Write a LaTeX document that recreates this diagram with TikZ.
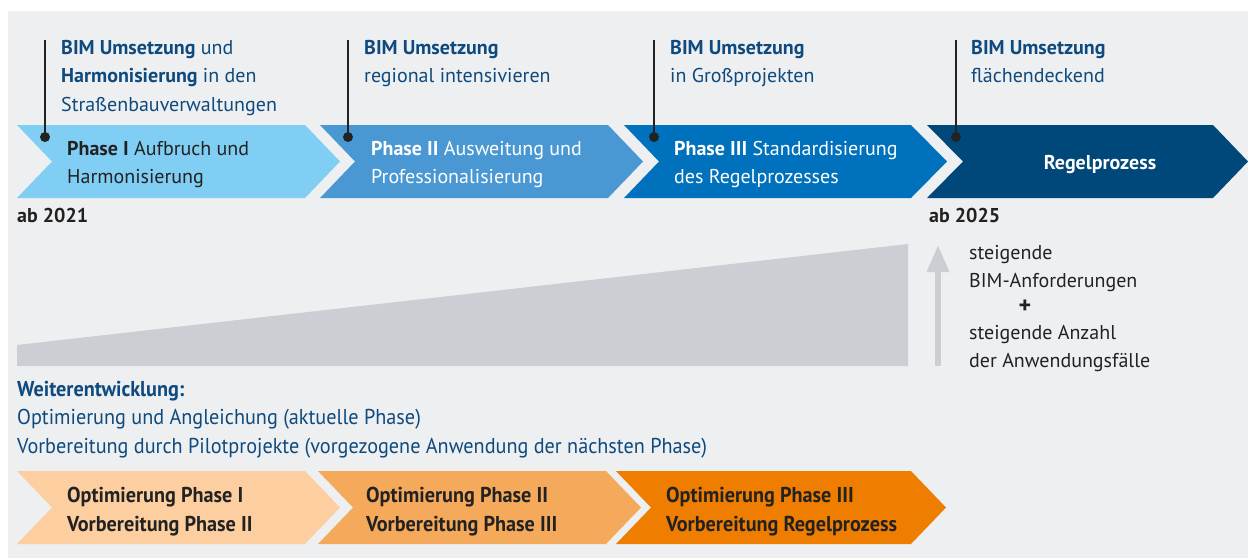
\documentclass[tikz,border=0pt]{standalone}
\usepackage{fontspec}
\setmainfont{PT Sans}
\newfontfamily\condfont[FakeStretch=0.94]{PT Sans}
\usetikzlibrary{arrows.meta}

\definecolor{bggray}{HTML}{EEEFF1}
\definecolor{wedgegray}{HTML}{CBCED2}
\definecolor{bimblue}{HTML}{0E4A7E}
\definecolor{darktext}{HTML}{222222}
\definecolor{phaseone}{HTML}{80CEF3}
\definecolor{phasetwo}{HTML}{4A98D3}
\definecolor{phasethree}{HTML}{0071BC}
\definecolor{regel}{HTML}{00477A}
\definecolor{optone}{HTML}{FDCFA0}
\definecolor{opttwo}{HTML}{F5A95A}
\definecolor{optthree}{HTML}{EE7D00}

\begin{document}
\begin{tikzpicture}
  [x=1pt, y=-1pt,
   txt/.style={anchor=north west, inner sep=0pt, align=left,
     font=\fontsize{20}{28.5}\selectfont},
   bimtxt/.style={txt, text=bimblue},
   phasetxt/.style={txt, text=white},
   condtxt/.style={txt, font=\condfont\fontsize{21.5}{28.5}\selectfont},
   marker/.style={line width=2pt, draw=darktext},
   gray arrow/.style={-{Triangle[width=21pt, length=27pt]}, line width=6pt, draw=wedgegray}]
  \useasboundingbox (0,0) rectangle (1248,558);
  \fill[bggray] (8,11) rectangle (1248,558);

  % phase chevrons
  \fill[phaseone] (17,125) -- (305,125) -- (340,161.5) -- (305,198) -- (17,198) -- (52,161.5) -- cycle;
  \fill[phasetwo] (320,125) -- (608,125) -- (643,161.5) -- (608,198) -- (320,198) -- (355,161.5) -- cycle;
  \fill[phasethree] (624,125) -- (911,125) -- (947,161.5) -- (911,198) -- (624,198) -- (659,161.5) -- cycle;
  \fill[regel] (927,125) -- (1213,125) -- (1248,161.5) -- (1213,198) -- (927,198) -- (963,161.5) -- cycle;

  \node[txt, text=darktext] (phase1) at (67,141) {\textbf{Phase I} Aufbruch und\\Harmonisierung};
  \node[phasetxt] (phase2) at (371,141) {\textbf{Phase II} Ausweitung und\\Professionalisierung};
  \node[phasetxt] (phase3) at (674,141) {\textbf{Phase III} Standardisierung\\des Regelprozesses};
  \node[txt, anchor=base, text=white, font=\bfseries\fontsize{20}{28.5}\selectfont] (regelprozess) at (1100,169) {Regelprozess};

  % BIM Umsetzung
  \node[bimtxt] (bim1) at (61,40) {\textbf{BIM Umsetzung} und\\\textbf{Harmonisierung} in den\\Straßenbauverwaltungen};
  \node[bimtxt] (bim2) at (364,40) {\textbf{BIM Umsetzung}\\regional intensivieren};
  \node[bimtxt] (bim3) at (670,40) {\textbf{BIM Umsetzung}\\in Großprojekten};
  \node[bimtxt] (bim4) at (971,40) {\textbf{BIM Umsetzung}\\flächendeckend};

  \coordinate (top1) at (45,40);   \coordinate (dot1) at (45,137);
  \coordinate (top2) at (348,40);  \coordinate (dot2) at (348,137);
  \coordinate (top3) at (654,40);  \coordinate (dot3) at (654,137);
  \coordinate (top4) at (956,40);  \coordinate (dot4) at (956,137);
  \draw[marker] (top1) -- (dot1);
  \draw[marker] (top2) -- (dot2);
  \draw[marker] (top3) -- (dot3);
  \draw[marker] (top4) -- (dot4);
  \fill[darktext] (dot1) circle (5);
  \fill[darktext] (dot2) circle (5);
  \fill[darktext] (dot3) circle (5);
  \fill[darktext] (dot4) circle (5);

  \node[txt, anchor=base west, text=darktext, font=\bfseries\fontsize{20}{28.5}\selectfont] (start) at (17,222) {ab 2021};
  \node[txt, anchor=base west, text=darktext, font=\bfseries\fontsize{20}{28.5}\selectfont] (regelstart) at (929,222) {ab 2025};

  % rising wedge and arrow
  \fill[wedgegray] (17,345) -- (908,244) -- (908,366) -- (17,366) -- cycle;
  \coordinate (arrowbase) at (938,366);
  \coordinate (arrowtip) at (938,245);
  \draw[gray arrow] (arrowbase) -- (arrowtip);

  \node[txt, text=darktext] (demands) at (969,245) {steigende\\BIM-Anforderungen};
  \node[txt, anchor=center, text=darktext, font=\bfseries\fontsize{24}{24}\selectfont] (plus) at (1025,307) {+};
  \node[txt, text=darktext] (cases) at (969,325) {steigende Anzahl\\der Anwendungsfälle};

  % Weiterentwicklung
  \node[condtxt, text=bimblue] (further) at (17,381) {\textbf{Weiterentwicklung:}\\Optimierung und Angleichung (aktuelle Phase)\\Vorbereitung durch Pilotprojekte (vorgezogene Anwendung der nächsten Phase)};

  % optimisation chevrons
  \fill[optone] (17,471) -- (305,471) -- (340,507.5) -- (305,544) -- (17,544) -- (52,507.5) -- cycle;
  \fill[opttwo] (318,471) -- (606,471) -- (641,507.5) -- (606,544) -- (318,544) -- (353,507.5) -- cycle;
  \fill[optthree] (616,471) -- (911,471) -- (946,507.5) -- (911,544) -- (616,544) -- (651,507.5) -- cycle;

  \node[condtxt, text=darktext, font=\condfont\bfseries\fontsize{21.5}{28.5}\selectfont] (opt1) at (67,487) {Optimierung Phase I\\Vorbereitung Phase II};
  \node[condtxt, text=darktext, font=\condfont\bfseries\fontsize{21.5}{28.5}\selectfont] (opt2) at (366,487) {Optimierung Phase II\\Vorbereitung Phase III};
  \node[condtxt, text=darktext, font=\condfont\bfseries\fontsize{21.5}{28.5}\selectfont] (opt3) at (666,487) {Optimierung Phase III\\Vorbereitung Regelprozess};
\end{tikzpicture}
\end{document}
